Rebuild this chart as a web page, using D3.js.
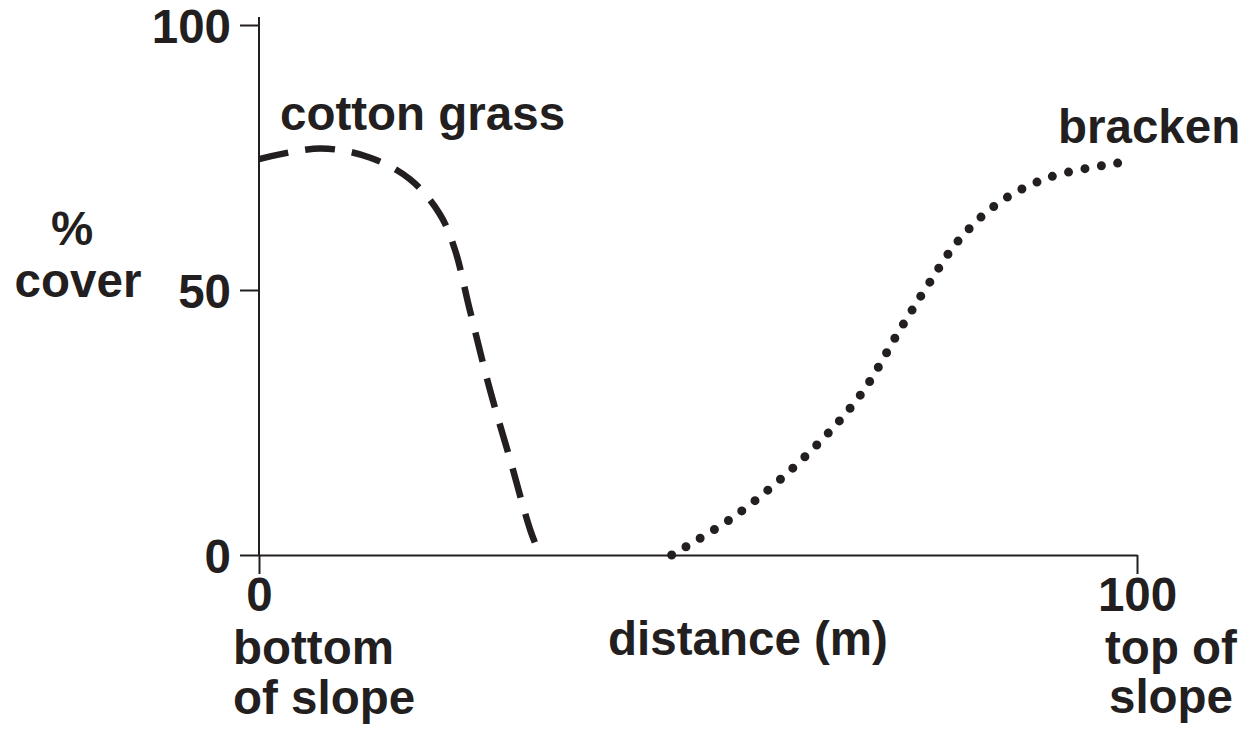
<!DOCTYPE html>
<html>
<head>
<meta charset="utf-8">
<script src="https://cdn.jsdelivr.net/npm/d3@7"></script>
<style>
  body { margin: 0; background: #fff; }
  text { font-family: "Liberation Sans", Arial, sans-serif; font-weight: bold; fill: #231f20; }
</style>
</head>
<body>
<div id="chart-area"></div>
<script>
// Canvas
width = 1253;
height = 731
let fontSize = 47.5

// Data: distance (m) vs % cover
let cottonX = [0, 7, 12.6, 17.2, 20.6, 22.3, 24, 26.3, 28.6, 30.9, 32]
let cottonY = [74.7, 76.7, 75, 70.9, 64.3, 57.7, 46.3, 31.2, 18, 4.7, 0]

let brackenX = [47, 54.4, 62.4, 68.5, 73, 76.1, 79.7, 84.3, 90.1, 98.4]
let brackenY = [0, 7.6, 18.9, 30.2, 42.5, 50.7, 59.4, 66.5, 71.3, 74.1]

let yTicks = [0, 50, 100]
let xTicks = [0, 100]

let ink = "#231f20"

// Scales
let xScale = d3.scaleLinear().domain([0, 100]).range([259, 1137])
let yScale = d3.scaleLinear().domain([0, 100]).range([555, 25])

svg = d3.select("#chart-area")
  .append("svg")
  .attr("width", width)
  .attr("height", height)

// y axis
let yAxis = d3.axisLeft(yScale).tickValues(yTicks).tickSize(19).tickSizeOuter(0).tickPadding(9)
let yg = svg.append("g")
  .attr("transform", "translate(" + xScale(0) + ",0)")
  .call(yAxis)
yg.select(".domain").remove()
yg.selectAll(".tick line").attr("stroke", ink).attr("stroke-width", 2)
yg.selectAll(".tick text")
  .attr("font-size", fontSize)
  .attr("dy", "0.37em")
  .attr("x", -28)

svg.append("line")
  .attr("x1", xScale(0)).attr("x2", xScale(0))
  .attr("y1", 17).attr("y2", yScale(0))
  .attr("stroke", ink).attr("stroke-width", 2)

// x axis
let xAxis = d3.axisBottom(xScale).tickValues(xTicks).tickSize(19).tickSizeOuter(0).tickPadding(9)
let xg = svg.append("g")
  .attr("transform", "translate(0," + yScale(0) + ")")
  .call(xAxis)
xg.select(".domain").attr("stroke", ink).attr("stroke-width", 2)
xg.selectAll(".tick line").attr("stroke", ink).attr("stroke-width", 2)
xg.selectAll(".tick text")
  .attr("font-size", fontSize)
  .attr("dy", 0)
  .attr("y", 56)

// curves
let line = d3.line()
  .x(d => xScale(d[0]))
  .y(d => yScale(d[1]))
  .curve(d3.curveCatmullRom)

svg.append("path")
  .datum(cottonX.map((x, i) => [x, cottonY[i]]))
  .attr("d", line)
  .attr("fill", "none")
  .attr("stroke", ink)
  .attr("stroke-width", 6.5)
  .attr("stroke-dasharray", "30,17")

svg.append("path")
  .datum(brackenX.map((x, i) => [x, brackenY[i]]))
  .attr("d", line)
  .attr("fill", "none")
  .attr("stroke", ink)
  .attr("stroke-width", 9)
  .attr("stroke-linecap", "round")
  .attr("stroke-dasharray", "0,16.6")

// labels
function label(txt, x, y, anchor) {
  svg.append("text")
    .attr("x", x)
    .attr("y", y)
    .attr("font-size", fontSize)
    .attr("text-anchor", anchor || "start")
    .text(txt)
}

label("cotton grass", 280, 130)
label("bracken", 1058, 143)
label("%", 72, 245, "middle")
label("cover", 78, 297, "middle")
label("bottom", 233, 664)
label("of slope", 233, 714)
label("distance (m)", 748, 655, "middle")
label("top of", 1171, 664, "middle")
label("slope", 1171, 713, "middle")
</script>
</body>
</html>
